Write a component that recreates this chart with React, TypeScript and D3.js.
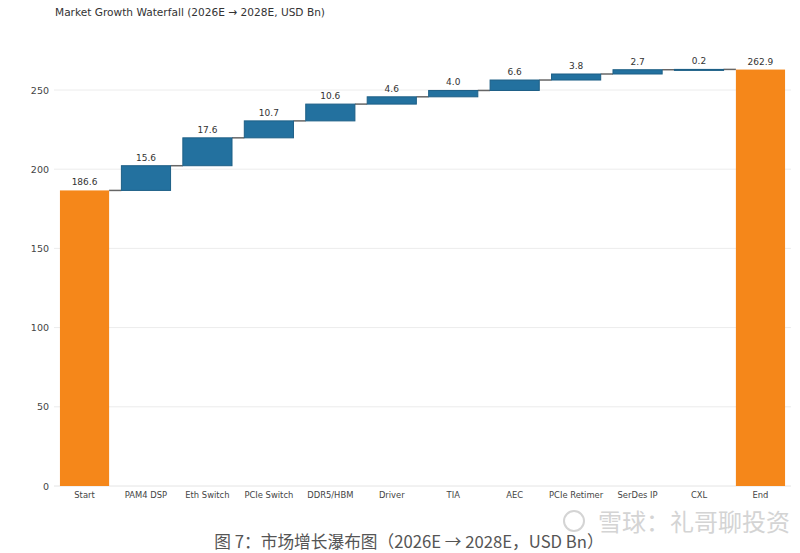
import React from "react";
import * as d3 from "d3";

const categories = ["Start", "PAM4 DSP", "Eth Switch", "PCIe Switch", "DDR5/HBM", "Driver", "TIA", "AEC", "PCIe Retimer", "SerDes IP", "CXL", "End"];
const values = [186.6, 15.6, 17.6, 10.7, 10.6, 4.6, 4.0, 6.6, 3.8, 2.7, 0.2, 262.9];
const kinds = ["total", "delta", "delta", "delta", "delta", "delta", "delta", "delta", "delta", "delta", "delta", "total"];
const yTicks = [0, 50, 100, 150, 200, 250];
const title = "Market Growth Waterfall (2026E \u2192 2028E, USD Bn)";
const caption = "图 7：市场增长瀑布图（2026E \u2192 2028E，USD Bn）";
const watermark = "雪球：礼哥聊投资";

const W = 800, H = 553;
const FONT = "'DejaVu Sans', sans-serif";

export default function App() {
  const x = d3.scaleBand<string>().domain(categories).range([53.8, 791.2]).paddingInner(0.2).paddingOuter(0.1);
  const y = d3.scaleLinear().domain([0, 250]).range([486, 90]);

  let run = 0;
  const bars = categories.map((c, i) => {
    let y0: number, y1: number;
    if (kinds[i] === "total") {
      y0 = 0; y1 = values[i]; run = values[i];
    } else {
      y0 = run; y1 = run + values[i]; run = y1;
    }
    return { c, v: values[i], kind: kinds[i], y0, y1 };
  });

  const bw = x.bandwidth();
  return (
    <svg width={W} height={H} style={{ position: "absolute", left: 0, top: 0, background: "#fff" }}>
      <rect x={0} y={0} width={W} height={H} fill="#fff" />
      <text x={55} y={16} fontFamily={FONT} fontSize={11.2} fill="#333" textLength={270} lengthAdjust="spacingAndGlyphs">{title}</text>
      {yTicks.map((t) => (
        <g key={t}>
          {t > 0 && <line x1={54} x2={791} y1={y(t)} y2={y(t)} stroke="#ececec" strokeWidth={1} />}
          <text x={49} y={y(t) + 3.5} textAnchor="end" fontFamily={FONT} fontSize={9.5} fill="#444">{t}</text>
        </g>
      ))}
      <line x1={54} x2={791} y1={y(0)} y2={y(0)} stroke="#e4e4e4" strokeWidth={1} />
      {bars.map((b, i) => {
        const next = bars[i + 1];
        if (!next) return null;
        const yy = y(b.y1);
        return (
          <line key={"c" + i} x1={(x(b.c) as number) + bw} x2={x(next.c) as number} y1={yy} y2={yy} stroke="#666" strokeWidth={1.5} />
        );
      })}
      {bars.map((b) => {
        const top = y(Math.max(b.y0, b.y1));
        const bot = y(Math.min(b.y0, b.y1));
        const isTotal = b.kind === "total";
        return (
          <g key={b.c}>
            <rect
              x={x(b.c)}
              y={top}
              width={bw}
              height={Math.max(bot - top, 1)}
              fill={isTotal ? "#f5871a" : "#23719f"}
              stroke={isTotal ? "#f5871a" : "#1d5f86"}
              strokeWidth={isTotal ? 0 : 1}
            />
            <text x={(x(b.c) as number) + bw / 2} y={top - 5} textAnchor="middle" fontFamily={FONT} fontSize={9} fill="#333">
              {b.v.toFixed(1)}
            </text>
            <text x={(x(b.c) as number) + bw / 2} y={498} textAnchor="middle" fontFamily={FONT} fontSize={8.4} fill="#444">
              {b.c}
            </text>
          </g>
        );
      })}
      <text x={790} y={531} textAnchor="end" fontFamily="'Noto Sans CJK SC', sans-serif" fontSize={24} fill="#d4d4d4">{watermark}</text>
      <circle cx={574} cy={521} r={10} fill="none" stroke="#d4d4d4" strokeWidth={2} />
      <text x={409} y={548} textAnchor="middle" fontFamily="'Noto Sans CJK SC', sans-serif" fontSize={16.7} fill="#555">{caption}</text>
    </svg>
  );
}
